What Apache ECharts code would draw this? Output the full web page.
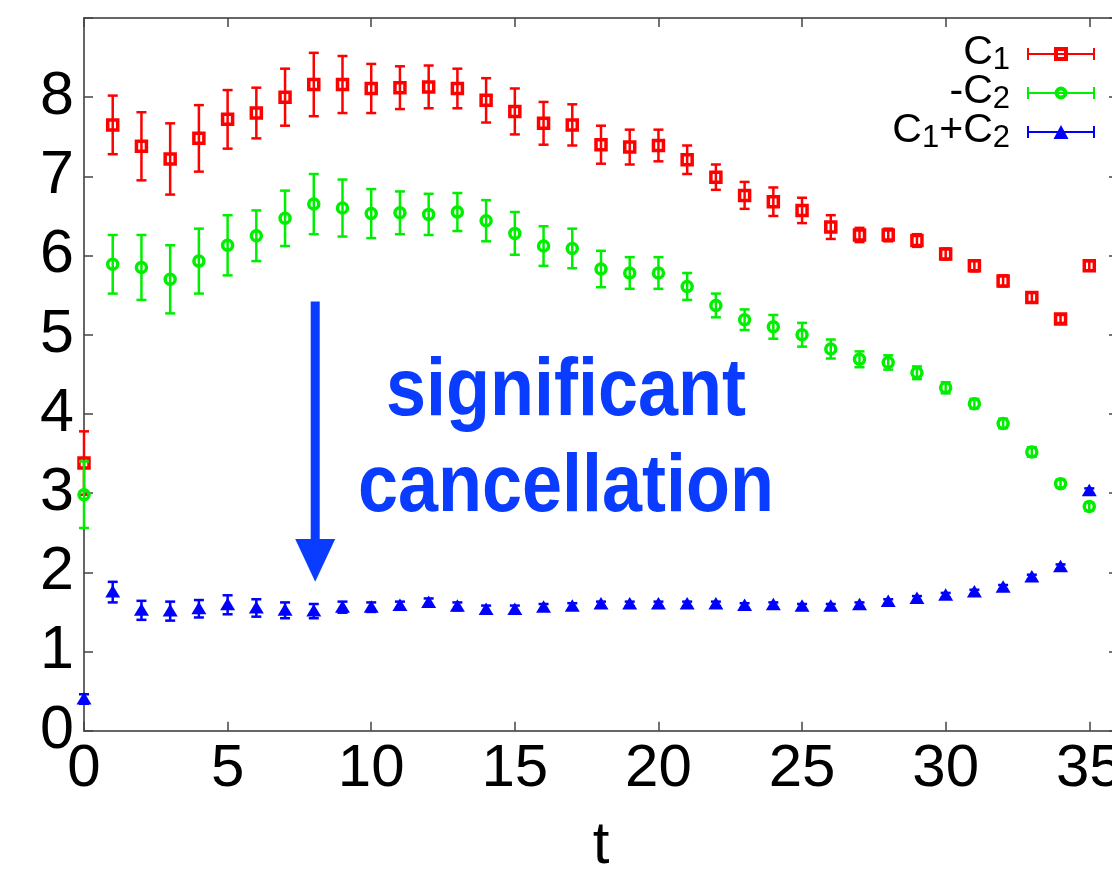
<!DOCTYPE html>
<html>
<head>
<meta charset="utf-8">
<script src="https://cdn.jsdelivr.net/npm/echarts/dist/echarts.min.js"></script>
<style>
  html, body { margin: 0; padding: 0; background: #fff; }
  #main { width: 1112px; height: 871px; }
</style>
</head>
<body>
<div id="main"></div>
<script>
// time slices
const tValues = [0, 1, 2, 3, 4, 5, 6, 7, 8, 9, 10, 11, 12, 13, 14, 15, 16, 17,
  18, 19, 20, 21, 22, 23, 24, 25, 26, 27, 28, 29, 30, 31, 32, 33, 34, 35]

// C1
const c1Mean = [3.38, 7.65, 7.38, 7.22, 7.48, 7.72, 7.80, 8.00, 8.16, 8.16, 8.11, 8.12,
  8.13, 8.11, 7.96, 7.82, 7.67, 7.65, 7.40, 7.37, 7.39, 7.21, 6.99, 6.76, 6.68, 6.57,
  6.36, 6.26, 6.26, 6.19, 6.02, 5.87, 5.68, 5.47, 5.20, 5.87]
const c1Err = [0.40, 0.37, 0.43, 0.45, 0.42, 0.37, 0.32, 0.36, 0.40, 0.36, 0.31, 0.27,
  0.27, 0.25, 0.28, 0.29, 0.27, 0.26, 0.24, 0.22, 0.20, 0.18, 0.16, 0.17, 0.18, 0.16,
  0.15, 0.09, 0.08, 0.08, 0.07, 0.07, 0.07, 0.06, 0.05, 0.06]

// -C2
const c2Mean = [2.98, 5.89, 5.85, 5.70, 5.93, 6.13, 6.25, 6.47, 6.65, 6.60, 6.53, 6.54,
  6.52, 6.55, 6.44, 6.28, 6.12, 6.09, 5.83, 5.78, 5.78, 5.61, 5.37, 5.19, 5.10, 5.00,
  4.82, 4.69, 4.65, 4.52, 4.33, 4.13, 3.88, 3.52, 3.12, 2.83]
const c2Err = [0.42, 0.37, 0.41, 0.43, 0.41, 0.38, 0.32, 0.35, 0.38, 0.36, 0.31, 0.27,
  0.26, 0.24, 0.26, 0.27, 0.25, 0.25, 0.23, 0.20, 0.20, 0.17, 0.15, 0.13, 0.15, 0.15,
  0.12, 0.10, 0.09, 0.08, 0.07, 0.06, 0.06, 0.06, 0.05, 0.05]

// C1+C2
const sumMean = [0.40, 1.75, 1.52, 1.51, 1.54, 1.59, 1.55, 1.52, 1.51, 1.56, 1.56, 1.58,
  1.62, 1.57, 1.53, 1.53, 1.56, 1.57, 1.60, 1.60, 1.60, 1.60, 1.60, 1.58, 1.59, 1.57,
  1.57, 1.59, 1.63, 1.67, 1.71, 1.75, 1.81, 1.94, 2.07, 3.03]
const sumErr = [0.06, 0.13, 0.12, 0.12, 0.11, 0.12, 0.11, 0.10, 0.09, 0.07, 0.06, 0.05,
  0.05, 0.05, 0.05, 0.05, 0.04, 0.04, 0.03, 0.03, 0.03, 0.03, 0.03, 0.03, 0.03, 0.03,
  0.03, 0.03, 0.03, 0.03, 0.03, 0.03, 0.03, 0.03, 0.03, 0.03]

const seriesNames = ['C1', '-C2', 'C1+C2']
const xTicks = [0, 5, 10, 15, 20, 25, 30, 35]
const yTicks = [0, 1, 2, 3, 4, 5, 6, 7, 8]

const FONT = 'Liberation Sans, Arial, Helvetica, sans-serif'

function rows (mean, err) {
  return tValues.map((t, i) => [t, mean[i], err[i]])
}

// error bar + marker drawn in data coords
function errorBar (marker) {
  return function (params, api) {
    const x = api.value(0)
    const m = api.value(1)
    const e = api.value(2)
    const c = api.coord([x, m])
    const hi = api.coord([x, m + e])
    const lo = api.coord([x, m - e])
    const color = api.visual('color')
    const lw = 2.5
    const cap = 5
    const children = [
      { type: 'line', shape: { x1: c[0], y1: hi[1], x2: c[0], y2: lo[1] }, style: { stroke: color, lineWidth: lw } },
      { type: 'line', shape: { x1: c[0] - cap, y1: hi[1], x2: c[0] + cap, y2: hi[1] }, style: { stroke: color, lineWidth: lw } },
      { type: 'line', shape: { x1: c[0] - cap, y1: lo[1], x2: c[0] + cap, y2: lo[1] }, style: { stroke: color, lineWidth: lw } }
    ]
    if (marker === 'square') {
      children.push({ type: 'rect', shape: { x: c[0] - 5, y: c[1] - 5, width: 10, height: 10 }, style: { stroke: color, lineWidth: 3.5, fill: 'none' } })
    } else if (marker === 'circle') {
      children.push({ type: 'circle', shape: { cx: c[0], cy: c[1], r: 5 }, style: { stroke: color, lineWidth: 3.5, fill: 'none' } })
    } else {
      children.push({ type: 'polygon', shape: { points: [[c[0], c[1] - 7], [c[0] + 7.5, c[1] + 5.5], [c[0] - 7.5, c[1] + 5.5]] }, style: { fill: color } })
    }
    return { type: 'group', children: children }
  }
}

// legend icons: bar with caps and a marker in the middle (68 x 14 box)
const iconBase = 'M0,6 L68,6 L68,8 L0,8 Z M0,1 L2,1 L2,13 L0,13 Z M66,1 L68,1 L68,13 L66,13 Z '
const icons = {
  'C1': 'path://' + iconBase + 'M27,0 L41,0 L41,14 L27,14 Z M31,4 L31,10 L37,10 L37,4 Z',
  '-C2': 'path://' + iconBase + 'M40.5,7 A6.5,6.5 0 1 1 27.5,7 A6.5,6.5 0 1 1 40.5,7 Z M36.5,7 A2.5,2.5 0 1 0 31.5,7 A2.5,2.5 0 1 0 36.5,7 Z',
  'C1+C2': 'path://' + iconBase + 'M26.5,14 L34,0 L41.5,14 Z'
}
const legendText = {
  'C1': '{n|C}{s|1}',
  '-C2': '{n|-C}{s|2}',
  'C1+C2': '{n|C}{s1|1}{n|+C}{s|2}'
}

const chart = echarts.init(document.getElementById('main'), null, { renderer: 'canvas' })

const frameAxis = {
  axisLine: { show: true, onZero: false, lineStyle: { color: '#666', width: 2 } },
  axisTick: { show: true, inside: true, length: 9, lineStyle: { color: '#444', width: 1.5 } },
  splitLine: { show: false }
}

const option = {
  animation: false,
  backgroundColor: '#fff',
  grid: { left: 84, top: 18, width: 1034, height: 712.7, containLabel: false, outerBoundsMode: 'none' },
  legend: {
    orient: 'vertical',
    align: 'right',
    right: 17,
    top: 19,
    padding: 0,
    itemGap: -18,
    itemWidth: 68,
    itemHeight: 14,
    selectedMode: false,
    data: seriesNames.map(n => ({ name: n, icon: icons[n] })),
    formatter: name => legendText[name],
    textStyle: {
      color: '#000',
      fontFamily: FONT,
      rich: {
        n: { fontSize: 41, lineHeight: 44, verticalAlign: 'top', color: '#000', fontFamily: FONT },
        s: { fontSize: 31, lineHeight: 30, padding: [26, 12, 0, 0], verticalAlign: 'bottom', color: '#000', fontFamily: FONT },
        s1: { fontSize: 31, lineHeight: 30, padding: [26, 0, 0, 0], verticalAlign: 'bottom', color: '#000', fontFamily: FONT }
      }
    }
  },
  xAxis: [
    Object.assign({
      type: 'value',
      min: 0,
      max: 36,
      interval: 5,
      name: 't',
      nameLocation: 'middle',
      nameGap: 86,
      nameTextStyle: { fontSize: 60, color: '#000', fontFamily: FONT },
      axisLabel: {
        margin: 9,
        fontSize: 60,
        color: '#000',
        fontFamily: FONT,
        formatter: v => (xTicks.indexOf(v) >= 0 ? String(v) : '')
      }
    }, frameAxis),
    Object.assign({
      type: 'value',
      position: 'top',
      min: 0,
      max: 36,
      interval: 5,
      axisLabel: { show: false }
    }, frameAxis)
  ],
  yAxis: [
    Object.assign({
      type: 'value',
      min: 0,
      max: 9,
      interval: 1,
      axisLabel: {
        margin: 10,
        fontSize: 61,
        color: '#000',
        fontFamily: FONT,
        formatter: v => (yTicks.indexOf(v) >= 0 ? String(v) : '')
      }
    }, frameAxis),
    Object.assign({
      type: 'value',
      position: 'right',
      min: 0,
      max: 9,
      interval: 1,
      axisLabel: { show: false }
    }, frameAxis)
  ],
  series: [
    {
      name: 'C1',
      type: 'custom',
      itemStyle: { color: '#ff0000' },
      renderItem: errorBar('square'),
      data: rows(c1Mean, c1Err),
      z: 3
    },
    {
      name: '-C2',
      type: 'custom',
      itemStyle: { color: '#00ee00' },
      renderItem: errorBar('circle'),
      data: rows(c2Mean, c2Err),
      z: 3
    },
    {
      name: 'C1+C2',
      type: 'custom',
      itemStyle: { color: '#0000ff' },
      renderItem: errorBar('triangle'),
      data: rows(sumMean, sumErr),
      z: 3
    }
  ]
}

chart.setOption(option)

// annotation: arrow and text placed in data coords
const arrowTop = chart.convertToPixel({ gridIndex: 0 }, [8.05, 5.42])
const arrowBase = chart.convertToPixel({ gridIndex: 0 }, [8.05, 2.42])
const arrowTip = chart.convertToPixel({ gridIndex: 0 }, [8.05, 1.88])
const textPos1 = chart.convertToPixel({ gridIndex: 0 }, [16.78, 4.27])
const textPos2 = chart.convertToPixel({ gridIndex: 0 }, [16.78, 3.05])
const annColor = '#0a3cff'

chart.setOption({
  graphic: [
    {
      type: 'line',
      shape: { x1: arrowTop[0], y1: arrowTop[1], x2: arrowBase[0], y2: arrowBase[1] + 4 },
      style: { stroke: annColor, lineWidth: 9 },
      z: 10
    },
    {
      type: 'polygon',
      shape: { points: [[arrowBase[0] - 20, arrowBase[1]], [arrowBase[0] + 20, arrowBase[1]], [arrowTip[0], arrowTip[1]]] },
      style: { fill: annColor },
      z: 10
    },
    {
      type: 'text',
      x: textPos1[0],
      y: textPos1[1],
      scaleY: 1.12,
      style: { text: 'significant', x: 0, y: 0, align: 'center', verticalAlign: 'middle', fill: annColor, font: 'bold 72px ' + FONT },
      z: 10
    },
    {
      type: 'text',
      x: textPos2[0],
      y: textPos2[1],
      scaleY: 1.12,
      style: { text: 'cancellation', x: 0, y: 0, align: 'center', verticalAlign: 'middle', fill: annColor, font: 'bold 72px ' + FONT },
      z: 10
    }
  ]
})
</script>
</body>
</html>
